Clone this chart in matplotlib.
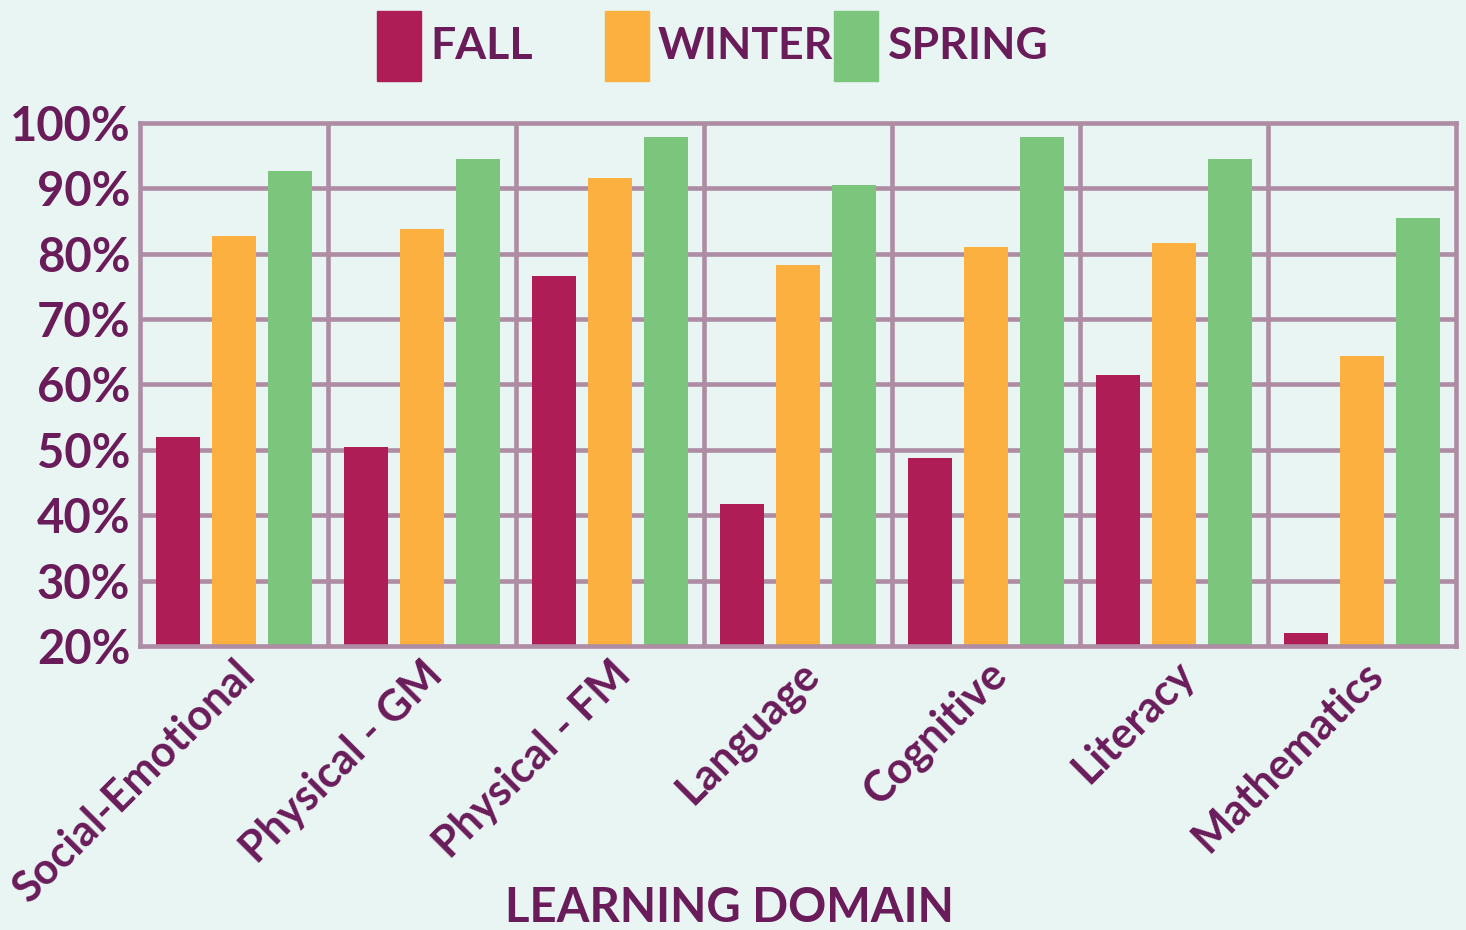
import numpy as np
import matplotlib.pyplot as plt
from matplotlib.patches import Rectangle
from matplotlib.transforms import ScaledTranslation

domains = ["Social-Emotional", "Physical - GM", "Physical - FM", "Language",
           "Cognitive", "Literacy", "Mathematics"]
fall = [51.9, 50.4, 76.6, 41.7, 48.7, 61.5, 22.0]
winter = [82.7, 83.8, 91.6, 78.3, 81.1, 81.7, 64.4]
spring = [92.7, 94.5, 97.9, 90.5, 97.9, 94.5, 85.5]
seasons = ["FALL", "WINTER", "SPRING"]

bg = "#E8F5F2"
ink = "#6A1B5A"
gridc = "#AE8CA3"
colors = ["#AE1D56", "#FBB040", "#7BC57C"]

plt.rcParams["font.family"] = ["Lato", "DejaVu Sans"]
plt.rcParams["font.weight"] = "bold"

fig = plt.figure(figsize=(14.66, 9.30), dpi=100, facecolor=bg)
ax = fig.add_axes([140 / 1466, 1 - 646 / 930, 1316 / 1466, 523 / 930])
ax.set_facecolor(bg)

x = np.arange(len(domains))
w = 0.235
for k, vals in enumerate([fall, winter, spring]):
    ax.bar(x + (k - 1) * 0.3, vals, width=w, color=colors[k], zorder=3)

ax.set_xlim(-0.5, len(domains) - 0.5)
ax.set_ylim(20, 100)
ax.set_yticks(range(20, 101, 10))
ax.set_yticklabels([f"{v}%" for v in range(20, 101, 10)], fontsize=34,
                   color=ink, fontweight="bold")
ax.tick_params(axis="y", length=0, pad=7)

# category labels: rotated text anchored at the baseline end, below each group
ax.set_xticks(x)
ax.set_xticklabels([])
ax.tick_params(axis="x", length=0)
off = ax.get_xaxis_transform() + ScaledTranslation(0.23, -0.31, fig.dpi_scale_trans)
for i, name in enumerate(domains):
    ax.text(i, 0, name, transform=off, fontsize=31, color=ink,
            fontweight="bold", rotation=45, ha="right", va="baseline",
            rotation_mode="anchor")

for v in range(30, 100, 10):
    ax.axhline(v, color=gridc, lw=3.3, zorder=1)
for b in np.arange(0.5, len(domains) - 1, 1.0):
    ax.axvline(b, color=gridc, lw=3.3, zorder=1)
for s in ax.spines.values():
    s.set_color(gridc)
    s.set_linewidth(3.3)
    s.set_zorder(4)

fig.text(729 / 1466, 1 - 908 / 930, "LEARNING DOMAIN", fontsize=34,
         color=ink, fontweight="bold", ha="center", va="center")

# legend drawn by hand to keep the uneven spacing
patch_x = [377, 605, 834]
text_x = [430, 658, 888]
for px, tx, name, c in zip(patch_x, text_x, seasons, colors):
    fig.patches.append(Rectangle((px / 1466, 1 - 81 / 930), 44 / 1466, 70 / 930,
                                 transform=fig.transFigure, color=c))
    fig.text(tx / 1466, 1 - 46 / 930, name, fontsize=32, color=ink,
             fontweight="bold", ha="left", va="center")

fig.savefig("out.png", dpi=100, facecolor=bg)
